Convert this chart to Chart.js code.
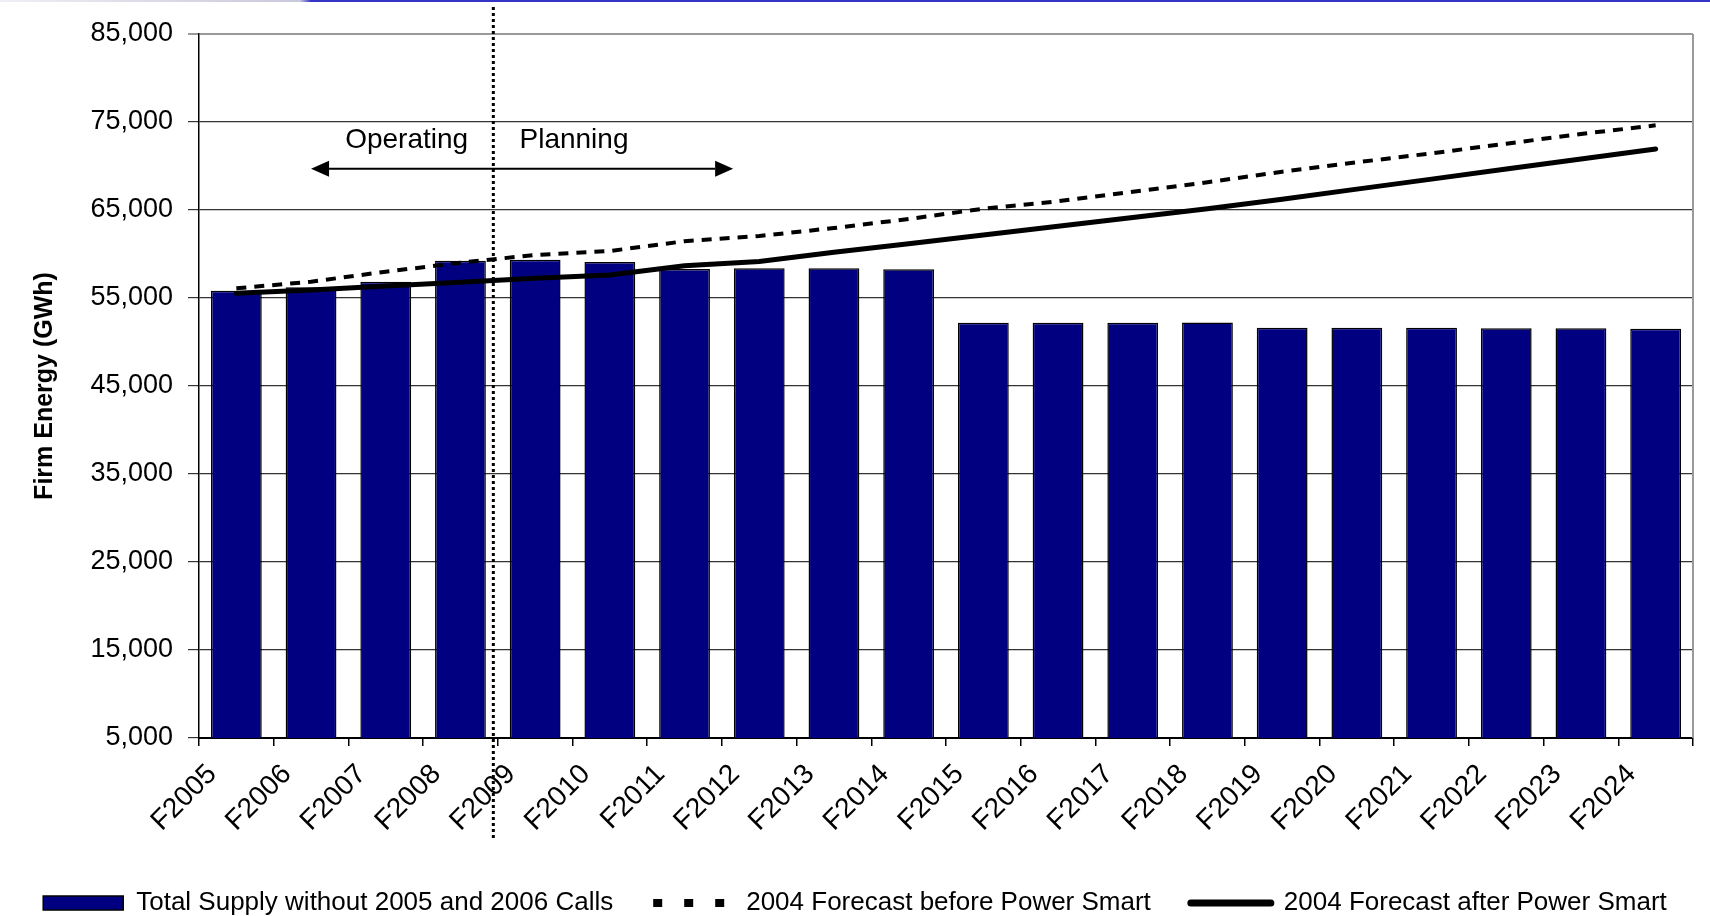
<!DOCTYPE html>
<html>
<head>
<meta charset="utf-8">
<title>Firm Energy</title>
<script src="https://cdn.jsdelivr.net/npm/chart.js@4.4.1/dist/chart.umd.min.js"></script>
<style>
  html, body { margin: 0; padding: 0; background: #fff; }
  #wrap { position: relative; width: 1710px; height: 916px; }
  #chart { position: absolute; left: 0; top: 0; }
  #band { position: absolute; left: 0; top: 0; width: 1710px; height: 2px;
          background: linear-gradient(to right, #eeeef4 0px, #c9c9dc 300px, #3434c6 311px, #3434c6 100%); }
</style>
</head>
<body>
<div id="wrap">
  <canvas id="chart" width="1710" height="916"></canvas>
  <div id="band"></div>
</div>
<script>
const years = ['F2005', 'F2006', 'F2007', 'F2008', 'F2009', 'F2010', 'F2011', 'F2012', 'F2013', 'F2014',
               'F2015', 'F2016', 'F2017', 'F2018', 'F2019', 'F2020', 'F2021', 'F2022', 'F2023', 'F2024'];

const totalSupply = [55830, 56210, 56850, 59240, 59350, 59090, 58300, 58370, 58370, 58260,
                     52190, 52190, 52190, 52220, 51630, 51630, 51610, 51560, 51550, 51500];

const forecastBefore = [56100, 56850, 57990, 59010, 59890, 60340, 61450, 62050, 62950, 63980,
                        65150, 65990, 67080, 68150, 69350, 70420, 71440, 72540, 73640, 74620];

const forecastAfter = [55530, 55910, 56360, 56780, 57240, 57610, 58670, 59150, 60190, 61170,
                       62170, 63160, 64150, 65140, 66230, 67370, 68510, 69650, 70790, 71940];

const yTicks = [5000, 15000, 25000, 35000, 45000, 55000, 65000, 75000, 85000];

// annotation: Operating / Planning split (category index, value)
const dividerAt = 3.44;
const arrowFrom = 1.0;
const arrowTo = 6.65;
const arrowLevel = 69700;
const operatingAt = 2.28;
const planningAt = 4.52;
const phaseLabelLevel = 72950;

const FONT = '"Liberation Sans", Arial, Helvetica, sans-serif';
const PLOT_LEFT = 199;
const PLOT_RIGHT_GAP = 17;
const PLOT_BOTTOM = 738;
const LEGEND_PAD = 40;
const BOTTOM_PAD = -10;

Chart.defaults.font.family = FONT;
Chart.defaults.color = '#000';

const phasePlugin = {
    id: 'phases',
    afterDatasetsDraw(chart) {
        const { ctx, chartArea, scales: { x, y } } = chart;
        ctx.save();

        // plot border on the right
        ctx.strokeStyle = '#9a9a9a';
        ctx.lineWidth = 2;
        ctx.beginPath();
        ctx.moveTo(chartArea.right, chartArea.top);
        ctx.lineTo(chartArea.right, chartArea.bottom);
        ctx.stroke();

        // dotted divider
        const dx = x.getPixelForValue(dividerAt);
        ctx.strokeStyle = '#000';
        ctx.lineWidth = 3;
        ctx.setLineDash([3, 3]);
        ctx.beginPath();
        ctx.moveTo(dx, chartArea.top - 27);
        ctx.lineTo(dx, chartArea.bottom + 100);
        ctx.stroke();
        ctx.setLineDash([]);

        // double arrow
        const ay = y.getPixelForValue(arrowLevel);
        const ax1 = x.getPixelForValue(arrowFrom);
        const ax2 = x.getPixelForValue(arrowTo);
        const head = 18, half = 8;
        ctx.lineWidth = 2;
        ctx.beginPath();
        ctx.moveTo(ax1 + head, ay);
        ctx.lineTo(ax2 - head, ay);
        ctx.stroke();
        ctx.fillStyle = '#000';
        ctx.beginPath();
        ctx.moveTo(ax1, ay);
        ctx.lineTo(ax1 + head, ay - half);
        ctx.lineTo(ax1 + head, ay + half);
        ctx.closePath();
        ctx.fill();
        ctx.beginPath();
        ctx.moveTo(ax2, ay);
        ctx.lineTo(ax2 - head, ay - half);
        ctx.lineTo(ax2 - head, ay + half);
        ctx.closePath();
        ctx.fill();

        // labels
        ctx.font = '28px ' + FONT;
        ctx.textAlign = 'center';
        ctx.textBaseline = 'middle';
        const ly = y.getPixelForValue(phaseLabelLevel);
        ctx.fillText('Operating', x.getPixelForValue(operatingAt), ly);
        ctx.fillText('Planning', x.getPixelForValue(planningAt), ly);
        ctx.restore();
    }
};

new Chart(document.getElementById('chart'), {
    type: 'bar',
    data: {
        labels: years,
        datasets: [
            {
                label: 'Total Supply without 2005 and 2006 Calls',
                data: totalSupply,
                backgroundColor: '#000080',
                borderColor: '#000',
                borderWidth: 1.5,
                barPercentage: 0.68,
                categoryPercentage: 1,
                order: 2
            },
            {
                type: 'line',
                label: '2004 Forecast before Power Smart',
                data: forecastBefore,
                borderColor: '#000',
                backgroundColor: '#000',
                borderWidth: 4,
                borderDash: [10, 8],
                pointRadius: 0,
                tension: 0,
                order: 1
            },
            {
                type: 'line',
                label: '2004 Forecast after Power Smart',
                data: forecastAfter,
                borderColor: '#000',
                backgroundColor: '#000',
                borderWidth: 5,
                borderCapStyle: 'round',
                pointRadius: 0,
                tension: 0,
                order: 0
            }
        ]
    },
    options: {
        responsive: false,
        animation: false,
        layout: { padding: { top: 34, right: 0, left: 0, bottom: BOTTOM_PAD } },
        plugins: {
            tooltip: { enabled: false },
            legend: {
                position: 'bottom',
                labels: {
                    font: { size: 26 },
                    color: '#000',
                    usePointStyle: true,
                    pointStyleWidth: 80,
                    boxHeight: 14,
                    padding: LEGEND_PAD,
                    sort: (a, b) => a.datasetIndex - b.datasetIndex,
                    generateLabels: chart => Chart.defaults.plugins.legend.labels.generateLabels(chart).map(item => {
                        const ds = chart.data.datasets[item.datasetIndex];
                        if (ds.type === 'line') {
                            item.pointStyle = 'line';
                            item.lineWidth = ds.borderDash ? 8 : 7;
                            item.lineDash = ds.borderDash ? [9, 22] : [];
                            item.lineCap = ds.borderDash ? 'butt' : 'round';
                        } else {
                            item.pointStyle = 'rect';
                        }
                        return item;
                    })
                }
            }
        },
        scales: {
            x: {
                afterFit: s => { s.height = s.chart.height - PLOT_BOTTOM - s.chart.legend.height - BOTTOM_PAD; },
                grid: { display: true, drawOnChartArea: false, drawTicks: true, tickLength: 8, color: '#000', lineWidth: 1.5 },
                border: { color: '#000', width: 2 },
                ticks: {
                    font: { size: 28 },
                    color: '#000',
                    minRotation: 45,
                    maxRotation: 45,
                    autoSkip: false,
                    padding: 12,
                    labelOffset: -24
                }
            },
            y: {
                min: yTicks[0],
                max: yTicks[yTicks.length - 1],
                afterFit: s => { s.width = PLOT_LEFT; },
                afterBuildTicks: s => { s.ticks = yTicks.map(v => ({ value: v })); },
                grid: {
                    color: c => (c.tick && c.tick.value === yTicks[yTicks.length - 1]) ? '#9a9a9a' : '#333',
                    lineWidth: c => (c.tick && c.tick.value === yTicks[yTicks.length - 1]) ? 2 : 1.2,
                    tickLength: 11
                },
                border: { color: '#000', width: 1.5 },
                ticks: {
                    font: { size: 27 },
                    color: '#000',
                    padding: 15,
                    callback: v => v.toLocaleString('en-US')
                },
                title: {
                    display: true,
                    text: 'Firm Energy (GWh)',
                    font: { size: 25, weight: 'bold' },
                    color: '#000',
                    padding: { top: 30, bottom: 4 }
                }
            },
            // empty strip that keeps the plot off the right edge
            gap: {
                type: 'linear',
                position: 'right',
                display: true,
                grid: { display: false },
                border: { display: false },
                ticks: { display: false },
                afterFit: s => { s.width = PLOT_RIGHT_GAP; }
            }
        }
    },
    plugins: [phasePlugin]
});
</script>
</body>
</html>
